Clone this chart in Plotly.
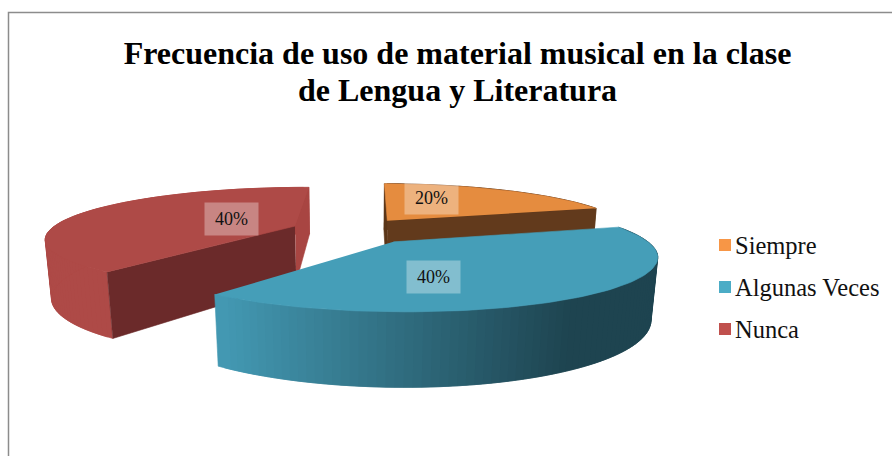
import numpy as np
import plotly.graph_objects as go

categories = ["Siempre", "Algunas Veces", "Nunca"]
values = [20, 40, 40]
labels = ["20%", "40%", "40%"]
title_lines = ["Frecuencia de uso de material musical en la clase", "de Lengua y Literatura"]

legend_colors = ["#F79646", "#4BACC6", "#C0504D"]
top_colors = ["#E58C3F", "#459EB8", "#AE4A47"]
wall_colors = ["#623A1C", None, "#AE4A47"]
cut_start = ["#5A3518", None, "#6B2A2A"]
cut_end = ["#623A1C", None, "#A84542"]
label_pos = [(431, 198), (433, 277), (231, 219)]
legend_rows = [245, 287, 329]

# projection of the tilted pie
CX, CY, A, B, H, K, M = 352, 230, 245, 49, 58, 0.225, 0.02
PULL = [0.25, 0.28, 0.25]
RADIUS = [1.0, 0.985, 1.0]
START = -17.0  # angle where the first category ends, sweeping backwards


def project(x, z, y=0.0):
    s = 1.0 / (1 - K * z + M * y)
    return CX + A * x * s, CY + (B * z + H * y) * s


total = sum(values)
spans = [v / total * 360 for v in values]
blue_from = START
blue_to = blue_from + spans[1]
red_to = blue_to + spans[2]
orange_to = red_to + spans[0]
ranges = [(red_to, orange_to), (blue_from, blue_to), (blue_to, red_to)]

fig = go.Figure()


def poly(px, py, color):
    fig.add_trace(go.Scatter(x=px, y=py, mode="lines", fill="toself", fillcolor=color,
                             line=dict(color=color, width=0.6), hoverinfo="skip", showlegend=False))


def lerp(c1, c2, t):
    a = [int(c1[i:i + 2], 16) for i in (1, 3, 5)]
    b = [int(c2[i:i + 2], 16) for i in (1, 3, 5)]
    return "rgb(%d,%d,%d)" % tuple(round(p + (q - p) * t) for p, q in zip(a, b))


for i in [2, 0, 1]:
    a0, a1 = ranges[i]
    mid = np.radians((a0 + a1) / 2)
    ox, oz = PULL[i] * np.cos(mid), PULL[i] * np.sin(mid)
    th = np.radians(np.linspace(a0, a1, 91))
    ax_ = ox + RADIUS[i] * np.cos(th)
    az_ = oz + RADIUS[i] * np.sin(th)
    tx, ty = project(ax_, az_, 0)
    bx, by = project(ax_, az_, 1)
    # outer wall, drawn as vertical strips
    if i == 1 or wall_colors[i]:
        for j in range(len(th) - 2):
            xs = [tx[j], tx[j + 2], bx[j + 2], bx[j]]
            ys = [ty[j], ty[j + 2], by[j + 2], by[j]]
            if i == 1:
                t = min(max((tx[j] - 216) / (575 - 216), 0), 1)
                poly(xs, ys, lerp("#449BB5", "#1E4450", t))
            else:
                poly(xs, ys, wall_colors[i])
    # radial cut faces
    apex_t = project(ox, oz, 0)
    apex_b = project(ox, oz, 1)
    if cut_start[i]:
        poly([apex_t[0], tx[0], bx[0], apex_b[0]], [apex_t[1], ty[0], by[0], apex_b[1]], cut_start[i])
    if cut_end[i]:
        poly([apex_t[0], tx[-1], bx[-1], apex_b[0]], [apex_t[1], ty[-1], by[-1], apex_b[1]], cut_end[i])
    # top face
    poly([apex_t[0]] + list(tx), [apex_t[1]] + list(ty), top_colors[i])

# legend keys and names
annotations = []
for name, col, row in zip(categories, legend_colors, legend_rows):
    fig.add_trace(go.Scatter(x=[725], y=[row], mode="markers", hoverinfo="skip", showlegend=False,
                             marker=dict(symbol="square", size=12, color=col)))
    annotations.append(dict(x=733, y=row, text=name, showarrow=False, xanchor="left", yanchor="middle",
                            font=dict(family="Liberation Serif", size=24.5, color="#111111")))

annotations += [dict(x=p[0], y=p[1], text=t, showarrow=False, width=51, height=30,
                     bgcolor="rgba(255,255,255,0.33)", font=dict(family="Liberation Serif", size=18, color="#111111"))
                for p, t in zip(label_pos, labels)]

title_font = dict(family="Liberation Serif", size=32, color="#000000", weight="bold")
annotations.append(dict(x=457.5, y=90, text=title_lines[1], showarrow=False, xanchor="center", yanchor="middle",
                        font=title_font))

fig.update_layout(
    width=892, height=456, margin=dict(l=0, r=0, t=0, b=0), showlegend=False,
    paper_bgcolor="white", plot_bgcolor="white",
    xaxis=dict(range=[0, 892], visible=False, fixedrange=True),
    yaxis=dict(range=[456, 0], visible=False, fixedrange=True),
    title=dict(text=title_lines[0], x=457.5 / 892, xanchor="center", y=1 - 53 / 456, yanchor="middle",
               font=title_font),
    annotations=annotations,
    shapes=[dict(type="path", xref="paper", yref="paper", path="M %f,0 L %f,%f L 1,%f" % (8.5 / 892, 8.5 / 892, 1 - 12.5 / 456, 1 - 12.5 / 456),
                 line=dict(color="#8C8C8C", width=1.5))],
)
fig.write_html("out.html", post_script="document.body.style.margin='0';", config=dict(displayModeBar=False))
